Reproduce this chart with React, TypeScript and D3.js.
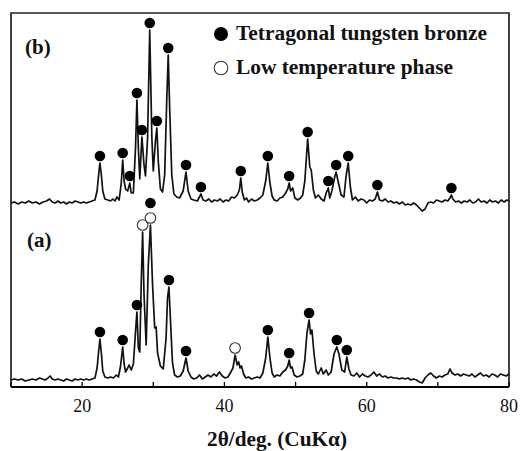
import React from "react";
import * as d3 from "d3";

// 2θ (deg) and intensity above baseline (a.u.)
const twoThetaB = [10, 10.5, 11, 11.5, 12, 12.5, 13, 13.5, 14, 14.5, 15, 15.4, 15.8, 16.2, 16.6, 17, 17.4, 17.8, 18.2, 18.6, 19, 19.4, 19.8, 20.2, 20.6, 21, 21.4, 21.8, 22.1, 22.3, 22.5, 22.7, 22.9, 23.2, 23.6, 24, 24.3, 24.6, 24.9, 25.2, 25.5, 25.7, 25.9, 26.1, 26.4, 26.7, 26.9, 27.2, 27.5, 27.7, 27.9, 28.1, 28.4, 28.7, 28.9, 29.2, 29.5, 29.8, 30, 30.3, 30.5, 30.7, 31, 31.3, 31.6, 31.9, 32.1, 32.3, 32.6, 32.9, 33.3, 33.7, 34.2, 34.6, 34.9, 35.3, 35.7, 36.2, 36.7, 37, 37.4, 37.8, 38.2, 38.6, 39, 39.4, 39.8, 40.2, 40.6, 41, 41.4, 41.8, 42.1, 42.3, 42.5, 42.8, 43.1, 43.4, 43.8, 44.2, 44.6, 45, 45.4, 45.8, 46.1, 46.4, 46.7, 47, 47.4, 47.8, 48.2, 48.6, 48.9, 49.1, 49.3, 49.6, 49.9, 50.3, 50.7, 51, 51.3, 51.7, 52, 52.2, 52.5, 52.8, 53.2, 53.6, 54, 54.3, 54.6, 54.8, 55.1, 55.5, 55.7, 56, 56.4, 56.8, 57.1, 57.4, 57.7, 58, 58.4, 58.8, 59.2, 59.6, 60, 60.4, 60.8, 61.2, 61.5, 61.8, 62.2, 62.6, 63, 63.4, 63.8, 64.2, 64.6, 65, 65.4, 65.8, 66.2, 66.6, 67, 67.4, 67.8, 68.2, 68.6, 69, 69.4, 69.8, 70.2, 70.6, 71, 71.4, 71.7, 71.9, 72.1, 72.5, 72.9, 73.3, 73.7, 74.1, 74.5, 74.9, 75.3, 75.7, 76.1, 76.5, 76.9, 77.3, 77.7, 78.1, 78.5, 78.9, 79.3, 79.7, 80];
const intensityB = [0, 1, -1, 1, 0, 2, 0, 1, -1, 1, 2, 4, 1, 0, 2, 0, 1, -1, 1, 0, 2, 1, 0, 1, 0, 1, 2, 3, 12, 27, 40, 28, 12, 4, 3, 2, 4, 2, 6, 3, 20, 43, 22, 14, 12, 20, 10, 10, 55, 103, 55, 24, 66, 38, 27, 65, 173, 65, 32, 62, 75, 42, 14, 11, 28, 105, 148, 95, 28, 9, 6, 5, 12, 31, 12, 4, 3, 2, 9, 3, 2, 4, 1, 3, 2, 4, 1, 3, 2, 6, 5, 8, 13, 25, 11, 3, 5, 1, 4, 2, 3, 5, 8, 22, 40, 20, 7, 3, 2, 5, 6, 10, 14, 20, 12, 15, 5, 3, 5, 8, 22, 64, 36, 33, 13, 5, 8, 4, 2, 10, 15, 5, 12, 26, 31, 21, 8, 6, 27, 40, 16, 3, 6, 2, 4, 3, 0, 3, 2, 4, 11, 3, 2, 4, 1, 2, 0, 1, -1, 1, -2, -1, -2, 0, -2, -5, -8, -6, 0, 1, 0, 3, 2, 1, 3, 2, 5, 8, 4, 1, 2, 0, 2, 1, 3, 0, 1, 4, 1, 2, 0, 3, 1, 2, 0, 3, 1, 3, 2];

const twoThetaA = [10, 10.5, 11, 11.5, 12, 12.5, 13, 13.5, 14, 14.4, 14.8, 15.2, 15.5, 15.8, 16.2, 16.6, 17, 17.4, 17.8, 18.2, 18.6, 19, 19.4, 19.8, 20.2, 20.6, 21, 21.4, 21.8, 22.1, 22.3, 22.5, 22.7, 22.9, 23.2, 23.6, 24, 24.4, 24.8, 25.1, 25.4, 25.7, 25.9, 26.1, 26.4, 26.6, 26.9, 27.2, 27.5, 27.7, 27.9, 28.1, 28.3, 28.5, 28.7, 29, 29.3, 29.6, 29.9, 30.2, 30.4, 30.6, 31, 31.4, 31.8, 32, 32.2, 32.4, 32.7, 33, 33.4, 33.8, 34.2, 34.6, 34.9, 35.3, 35.7, 36.1, 36.5, 36.9, 37.3, 37.7, 38.1, 38.5, 38.9, 39.3, 39.7, 40.1, 40.5, 40.9, 41.2, 41.5, 41.8, 42, 42.2, 42.4, 42.7, 43, 43.4, 43.8, 44.2, 44.6, 45, 45.4, 45.8, 46.1, 46.4, 46.7, 47, 47.4, 47.8, 48.2, 48.6, 48.9, 49.1, 49.3, 49.5, 49.8, 50.2, 50.6, 51, 51.3, 51.6, 51.9, 52.1, 52.3, 52.6, 52.9, 53.2, 53.6, 53.9, 54.3, 54.6, 55, 55.4, 55.8, 56.1, 56.5, 56.9, 57.2, 57.5, 57.8, 58.2, 58.6, 59, 59.4, 59.8, 60.2, 60.6, 61, 61.4, 61.8, 62.2, 62.6, 63, 63.4, 63.8, 64.2, 64.6, 65, 65.4, 65.8, 66.2, 66.6, 67, 67.4, 67.8, 68.2, 68.6, 69, 69.4, 69.8, 70.2, 70.6, 71, 71.4, 71.7, 72, 72.4, 72.8, 73.2, 73.6, 74, 74.4, 74.8, 75.2, 75.6, 76, 76.4, 76.8, 77.2, 77.6, 78, 78.4, 78.8, 79.2, 79.6, 80];
const intensityA = [0, 1, 0, 1, -1, 0, 1, 0, 2, 1, 0, 2, 4, 1, 0, 1, 0, -1, 1, 0, -1, 1, 0, 1, 0, 1, 0, 1, 2, 12, 27, 41, 27, 9, 3, 2, 3, 2, 5, 3, 14, 33, 16, 8, 12, 15, 10, 16, 48, 68, 32, 28, 95, 148, 85, 35, 115, 155, 95, 52, 53, 27, 14, 11, 42, 82, 93, 62, 17, 5, 3, 4, 9, 22, 9, 3, 1, 2, 5, 1, 3, 5, 3, 6, 4, 8, 4, 2, 3, 8, 12, 25, 15, 18, 12, 14, 6, 2, 3, 1, 2, 3, 2, 7, 22, 43, 22, 7, 3, 5, 4, 8, 10, 14, 20, 12, 13, 5, 3, 4, 6, 20, 47, 60, 46, 50, 26, 9, 6, 12, 6, 10, 5, 8, 26, 33, 26, 10, 8, 23, 11, 5, 4, 7, 3, 6, 4, 3, 5, 8, 4, 6, 3, 4, 2, 3, 2, 2, 1, 2, 1, 2, 0, 1, 0, -2, -3, 2, 5, 7, 4, 2, 4, 3, 5, 6, 11, 7, 5, 6, 4, 6, 5, 4, 6, 3, 5, 7, 4, 5, 3, 6, 5, 3, 6, 5, 4, 6];

// vertical offsets of the two stacked patterns
const offsetA = 7;
const offsetB = 184;

// phase markers: peak positions
const markersB = [22.5, 25.7, 26.7, 27.7, 28.4, 29.5, 30.5, 32.1, 34.6, 36.7, 42.3, 46.1, 49.1, 51.7, 54.6, 55.7, 57.4, 61.5, 71.9];
const markersAFilled = [22.5, 25.7, 27.7, 32.2, 34.6, 46.1, 49.1, 51.9, 55.8, 57.2];
const markersAOpen = [28.5, 29.6, 41.5];
const markersAStacked = [29.6];

const xTicks = [10, 20, 30, 40, 50, 60, 70, 80];
const xTickLabels = [20, 40, 60, 80];

const W = 520;
const H = 451;
const m = { left: 11, right: 11, top: 13, bottom: 64 };

const serif = "'Liberation Serif', 'Times New Roman', serif";

export default function App() {
  const x = d3.scaleLinear().domain([10, 80]).range([m.left, W - m.right]);
  const y = d3.scaleLinear().domain([0, H - m.top - m.bottom]).range([H - m.bottom, m.top]);

  const line = d3
    .line<[number, number]>()
    .x((d) => x(d[0]))
    .y((d) => y(d[1]));

  const seriesA: [number, number][] = twoThetaA.map((t, i) => [t, intensityA[i] + offsetA]);
  const seriesB: [number, number][] = twoThetaB.map((t, i) => [t, intensityB[i] + offsetB]);

  // marker sits just above the local maximum of the trace
  const peakTop = (s: [number, number][], t: number) =>
    d3.max(s.filter((d) => Math.abs(d[0] - t) <= 0.3), (d) => d[1]) ?? 0;
  const gap = 7;

  const filled = [
    ...markersB.map((t) => ({ t, cy: y(peakTop(seriesB, t)) - gap })),
    ...markersAFilled.map((t) => ({ t, cy: y(peakTop(seriesA, t)) - gap })),
    ...markersAStacked.map((t) => ({ t, cy: y(peakTop(seriesA, t)) - gap - 15 })),
  ];
  const open = markersAOpen.map((t) => ({ t, cy: y(peakTop(seriesA, t)) - gap }));

  const x0 = m.left;
  const x1 = W - m.right;
  const yBottom = H - m.bottom;

  return (
    <svg width={W} height={H} style={{ position: "absolute", left: 0, top: 0, background: "#fff" }} fontFamily={serif}>
      {/* frame */}
      <path d={`M${x0},${yBottom}V${m.top}H${x1}V${yBottom}`} fill="none" stroke="#222" strokeWidth={1.7} />
      <line x1={x0} x2={x1} y1={yBottom} y2={yBottom} stroke="#000" strokeWidth={2.2} />

      {xTicks.map((t) => (
        <line key={t} x1={x(t)} x2={x(t)} y1={yBottom} y2={yBottom - 5} stroke="#000" strokeWidth={1.3} />
      ))}
      {xTickLabels.map((t) => (
        <text key={t} x={x(t)} y={yBottom + 25} textAnchor="middle" fontSize={18} fill="#111">
          {t}
        </text>
      ))}

      <path d={line(seriesB) ?? ""} fill="none" stroke="#111" strokeWidth={1.7} strokeLinejoin="round" />
      <path d={line(seriesA) ?? ""} fill="none" stroke="#111" strokeWidth={1.7} strokeLinejoin="round" />

      {filled.map((d, i) => (
        <circle key={"f" + i} cx={x(d.t)} cy={d.cy} r={5.3} fill="#000" />
      ))}
      {open.map((d, i) => (
        <circle key={"o" + i} cx={x(d.t)} cy={d.cy} r={5.3} fill="#fff" stroke="#333" strokeWidth={1.1} />
      ))}

      <text x={25} y={54} fontSize={21} fontWeight="bold" fill="#111">(b)</text>
      <text x={27} y={247} fontSize={21} fontWeight="bold" fill="#111">(a)</text>

      {/* legend */}
      <circle cx={221} cy={34} r={7} fill="#000" />
      <text x={236} y={40} fontSize={20} fontWeight="bold" fill="#111" textLength={251} lengthAdjust="spacingAndGlyphs">
        Tetragonal tungsten bronze
      </text>
      <circle cx={221} cy={68} r={6.8} fill="#fff" stroke="#333" strokeWidth={1.1} />
      <text x={236} y={74} fontSize={20} fontWeight="bold" fill="#111" textLength={217} lengthAdjust="spacingAndGlyphs">
        Low temperature phase
      </text>

      <text x={207} y={446} fontSize={20} fontWeight="bold" fill="#111" textLength={140} lengthAdjust="spacingAndGlyphs">
        2θ/deg. (CuKα)
      </text>
    </svg>
  );
}
